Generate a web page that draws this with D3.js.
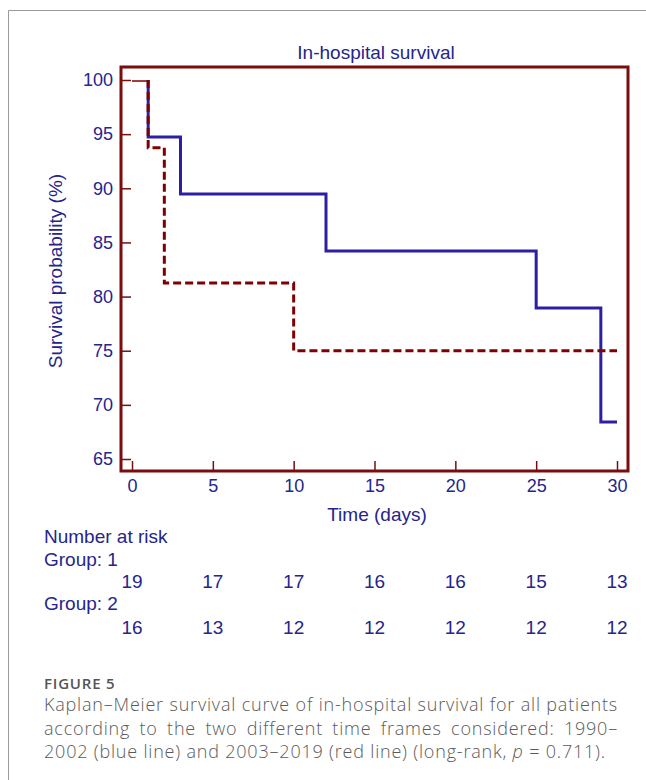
<html>
<head>
<script src="https://d3js.org/d3.v7.min.js"></script>
<style>
  body { margin: 0; background: #fff; }
  svg text { font-family: 'Liberation Sans', Arial, sans-serif; }
  .caption text { font-family: 'Open Sans', sans-serif; }
</style>
</head>
<body>
<svg id="chart" width="646" height="780"></svg>
<script>
// survival data (time in days, survival in %)
const group1Times = [0, 1, 3, 12, 25, 29, 30];
const group1Surv = [100, 94.74, 89.47, 84.21, 78.95, 68.42, 68.42];
const group2Times = [0, 1, 2, 10, 30];
const group2Surv = [100, 93.75, 81.25, 75, 75];

const riskTimes = [0, 5, 10, 15, 20, 25, 30];
const riskGroup1 = [19, 17, 17, 16, 16, 15, 13];
const riskGroup2 = [16, 13, 12, 12, 12, 12, 12];

const xTicks = [0, 5, 10, 15, 20, 25, 30];
const yTicks = [65, 70, 75, 80, 85, 90, 95, 100];

const navy = "#25258c";
const frameRed = "#7a0d0d";
const blue = "#2c1fa3";
const red = "#7f0000";

const svg = d3.select("#chart");

// card border (top and left only visible)
svg.append("path")
  .attr("d", "M8.5,780 V10.5 H646")
  .attr("fill", "none")
  .attr("stroke", "#9a9a9a")
  .attr("stroke-width", 1);

let box = {left: 121, right: 628, top: 67, bottom: 471};

let x = d3.scaleLinear().domain([0, 30]).range([132, 617]);
let y = d3.scaleLinear().domain([65, 100]).range([459, 80]);

// title
svg.append("text")
  .attr("x", 376).attr("y", 59)
  .attr("text-anchor", "middle")
  .attr("font-size", 19)
  .attr("fill", navy)
  .text("In-hospital survival");

// axes
const yAxis = d3.axisLeft(y).tickValues(yTicks).tickSize(-10).tickPadding(8);
const gy = svg.append("g")
  .attr("transform", "translate(" + box.left + ",0)")
  .call(yAxis);

const xAxis = d3.axisBottom(x).tickValues(xTicks).tickSize(-10).tickPadding(8);
const gx = svg.append("g")
  .attr("transform", "translate(0," + box.bottom + ")")
  .call(xAxis);

[gx, gy].forEach(g => {
  g.select(".domain").remove();
  g.selectAll(".tick line").attr("stroke", frameRed).attr("stroke-width", 1.5);
  g.selectAll(".tick text")
    .attr("fill", navy)
    .attr("font-size", 18)
    .style("font-family", "'Liberation Sans', Arial, sans-serif");
});

// axis labels
svg.append("text")
  .attr("transform", "translate(62,271) rotate(-90)")
  .attr("text-anchor", "middle")
  .attr("font-size", 19)
  .attr("fill", navy)
  .text("Survival probability (%)");

svg.append("text")
  .attr("x", 377).attr("y", 521)
  .attr("text-anchor", "middle")
  .attr("font-size", 19)
  .attr("fill", navy)
  .text("Time (days)");

// step curves
const stepLine = d3.line().curve(d3.curveStepAfter);

function curve(times, surv, color, dash) {
  // drawn from the first event on: vertical drop, then the steps
  let pts = [[x(times[1]), y(surv[0])]];
  for (let i = 1; i < times.length; i++) pts.push([x(times[i]), y(surv[i])]);
  svg.append("path")
    .attr("d", "M" + pts[0][0] + "," + pts[0][1] + stepLine(pts.slice(1)).replace(/^M/, "L"))
    .attr("fill", "none")
    .attr("stroke", color)
    .attr("stroke-width", 3)
    .attr("stroke-dasharray", dash);
}
curve(group1Times, group1Surv, blue, null);
curve(group2Times, group2Surv, red, "8,4");

// thin initial segment (before first event)
svg.append("line")
  .attr("x1", x(group2Times[0])).attr("x2", x(group2Times[1]))
  .attr("y1", y(group2Surv[0]) + 1).attr("y2", y(group2Surv[0]) + 1)
  .attr("stroke", red)
  .attr("stroke-width", 1.5);

// frame
svg.append("rect")
  .attr("x", box.left).attr("y", box.top)
  .attr("width", box.right - box.left).attr("height", box.bottom - box.top)
  .attr("fill", "none")
  .attr("stroke", frameRed)
  .attr("stroke-width", 3);

// number at risk table
const risk = svg.append("g").attr("fill", navy).attr("font-size", 19);
risk.append("text").attr("x", 44).attr("y", 543).text("Number at risk");
risk.append("text").attr("x", 44).attr("y", 566).text("Group: 1");
risk.append("text").attr("x", 44).attr("y", 610).text("Group: 2");
risk.selectAll(".r1").data(riskTimes).enter().append("text")
  .attr("class", "r1")
  .attr("x", d => x(d)).attr("y", 588)
  .attr("text-anchor", "middle")
  .text((d, i) => riskGroup1[i]);
risk.selectAll(".r2").data(riskTimes).enter().append("text")
  .attr("class", "r2")
  .attr("x", d => x(d)).attr("y", 634)
  .attr("text-anchor", "middle")
  .text((d, i) => riskGroup2[i]);

// caption
const cap = svg.append("g").attr("class", "caption").attr("fill", "#5a5a5a");
cap.append("text").attr("x", 44).attr("y", 689)
  .attr("font-size", 15).attr("font-weight", 600).attr("fill", "#555")
  .attr("letter-spacing", 0.8)
  .text("FIGURE 5");
const capLines = [
  "Kaplan\u2013Meier survival curve of in-hospital survival for all patients",
  "according to the two different time frames considered: 1990\u2013"
];
const capWidth = 574;
capLines.forEach((s, i) => {
  let t = cap.append("text").attr("x", 44).attr("y", 711 + i * 23.5)
    .attr("font-size", 18).attr("font-weight", 300)
    .attr("letter-spacing", 0.8)
    .text(s);
  // justify by widening the gaps between words
  let w = t.node().getComputedTextLength();
  let gaps = s.split(" ").length - 1;
  t.attr("word-spacing", (capWidth - w) / gaps);
});
const last = cap.append("text").attr("x", 44).attr("y", 758)
  .attr("font-size", 18).attr("font-weight", 300)
  .attr("letter-spacing", 0.8);
last.append("tspan").text("2002 (blue line) and 2003\u20132019 (red line) (long-rank, ");
last.append("tspan").attr("font-style", "italic").text("p");
last.append("tspan").text(" = 0.711).");
</script>
</body>
</html>
